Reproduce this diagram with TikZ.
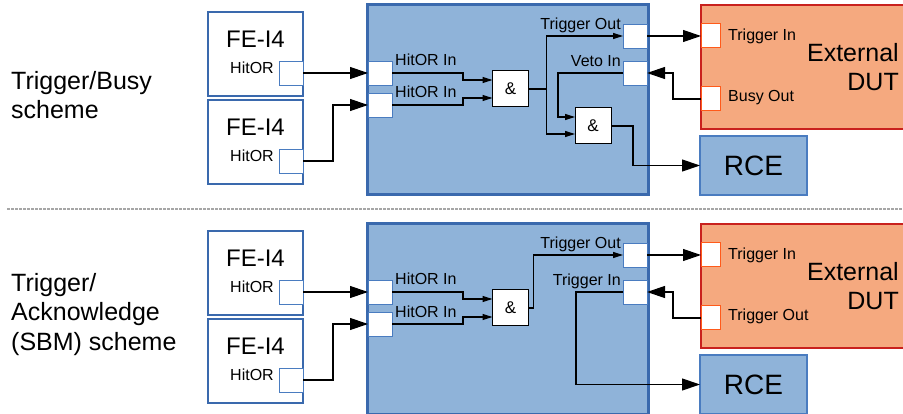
\documentclass[tikz,border=0pt]{standalone}
\usepackage{fontspec}
\setmainfont{Liberation Sans}
\usetikzlibrary{arrows.meta}

\definecolor{boxblue}{HTML}{8FB3D9}
\definecolor{edgeblue}{HTML}{3A69AD}
\definecolor{portblue}{HTML}{4A7CC0}
\definecolor{dutfill}{HTML}{F5A97F}
\definecolor{dutedge}{HTML}{C9211E}
\definecolor{dutport}{HTML}{FF5A1A}

\tikzset{
  scheme/.style={font=\fontsize{25}{29.5}\selectfont, align=left, inner sep=0pt},
  febox/.style={draw=edgeblue, line width=1.2pt, fill=white, minimum width=95pt, minimum height=84pt, inner sep=0pt, outer sep=0pt},
  fename/.style={font=\fontsize{24}{28}\selectfont, inner sep=0pt, anchor=base},
  plabel/.style={font=\fontsize{16}{19}\selectfont, inner sep=0pt},
  port/.style={draw=portblue, line width=0.9pt, fill=white, minimum size=24pt, inner sep=0pt, outer sep=0pt},
  dutpin/.style={draw=dutport, line width=1pt, fill=white, minimum width=19pt, minimum height=24pt, inner sep=0pt, outer sep=0pt},
  mainbox/.style={draw=edgeblue, line width=3pt, fill=boxblue, minimum width=281pt, minimum height=190pt, inner sep=0pt, outer sep=0pt},
  gate/.style={draw=black, line width=1pt, fill=white, minimum size=36pt, inner sep=0pt, outer sep=0pt, font=\fontsize{17}{20}\selectfont},
  dutbox/.style={draw=dutedge, line width=1.5pt, fill=dutfill, minimum width=218pt, minimum height=124pt, inner sep=0pt, outer sep=0pt},
  dutname/.style={font=\fontsize{25}{29}\selectfont, align=right, inner sep=0pt},
  rcebox/.style={draw=portblue, line width=1.2pt, fill=boxblue, minimum width=107pt, minimum height=59pt, inner sep=0pt, outer sep=0pt, font=\fontsize{28}{32}\selectfont},
  link/.style={line width=1.2pt, -{Triangle[length=18pt,width=12pt]}},
  wire/.style={line width=1.2pt, -{Triangle[length=10pt,width=6pt]}},
  wirenoarrow/.style={line width=1.2pt}
}

\begin{document}
\begin{tikzpicture}[x=1pt,y=-1pt]
\useasboundingbox (0,0) rectangle (903,414);

\node[scheme, anchor=base west] (ttitle) at (11,119) {Trigger/Busy\\scheme};

\node[febox] (tfe1) at (255.5,54) {};
\node[fename] (tfe1name) at (255.5,48) {FE-I4};
\node[plabel, anchor=base east] (tfe1hit) at (274,74) {HitOR};
\node[port] (tfe1out) at (291,73) {};
\node[febox] (tfe2) at (255.5,142) {};
\node[fename] (tfe2name) at (255.5,136) {FE-I4};
\node[plabel, anchor=base east] (tfe2hit) at (274,162) {HitOR};
\node[port] (tfe2out) at (291,161) {};

\node[mainbox] (tmain) at (507.5,100) {};
\node[port] (tin1) at (380,73) {};
\node[port] (tin2) at (380,105) {};
\node[plabel, anchor=base west] (tin1lbl) at (395,66) {HitOR In};
\node[plabel, anchor=base west] (tin2lbl) at (395,98) {HitOR In};
\node[gate] (tand1) at (510.5,89) {\&};
\node[gate] (tand2) at (593,126) {\&};
\node[port] (ttrigout) at (635,36) {};
\node[port] (tveto) at (635,73) {};
\node[plabel, anchor=base east] (ttrigoutlbl) at (621,30) {Trigger Out};
\node[plabel, anchor=base east] (tvetolbl) at (621,67) {Veto In};

\node[dutbox] (tdut) at (810,67) {};
\node[dutname, anchor=base east] (tdutname) at (899,91) {External\\DUT};
\node[dutpin] (tdutin) at (710.5,36) {};
\node[dutpin] (tdutbusy) at (710.5,99) {};
\node[plabel, anchor=base west] (tdutinlbl) at (728,41) {Trigger In};
\node[plabel, anchor=base west] (tdutbusylbl) at (728,102) {Busy Out};
\node[rcebox] (trce) at (753.5,165.5) {RCE};

\draw[link] (tfe1out.east) -- (tin1.west);
\draw[link] (tfe2out.east) -- ++(30,0) |- (tin2.west);
\draw[wire] (tin1.east) -- ++(71,0) |- ([yshift=9pt]tand1.west);
\draw[wire] (tin2.east) -- ++(71,0) |- ([yshift=-9pt]tand1.west);
\draw[wirenoarrow] (tand1.east) -- ++(18,0) coordinate (tsplit);
\draw[wire] (tsplit) |- (ttrigout.west);
\draw[wire] (tsplit) |- ([yshift=-8pt]tand2.west);
\draw[wire] (tveto.west) -- ++(-65,0) |- ([yshift=9pt]tand2.west);
\draw[link] (tand2.east) -- ++(22,0) |- (trce.west);
\draw[link] (ttrigout.east) -- (tdutin.west);
\draw[link] (tdutbusy.west) -- ++(-28,0) |- (tveto.east);

\draw[gray!70, line width=2pt, dash pattern=on 2.5pt off 1.5pt] (7,209) -- (903,209);

\begin{scope}[yshift=-219pt]
\node[scheme, anchor=base west] (btitle) at (11,131) {Trigger/\\Acknowledge\\(SBM) scheme};

\node[febox] (bfe1) at (255.5,54) {};
\node[fename] (bfe1name) at (255.5,48) {FE-I4};
\node[plabel, anchor=base east] (bfe1hit) at (274,74) {HitOR};
\node[port] (bfe1out) at (291,73) {};
\node[febox] (bfe2) at (255.5,142) {};
\node[fename] (bfe2name) at (255.5,136) {FE-I4};
\node[plabel, anchor=base east] (bfe2hit) at (274,162) {HitOR};
\node[port] (bfe2out) at (291,161) {};

\node[mainbox] (bmain) at (507.5,100) {};
\node[port] (bin1) at (380,73) {};
\node[port] (bin2) at (380,105) {};
\node[plabel, anchor=base west] (bin1lbl) at (395,66) {HitOR In};
\node[plabel, anchor=base west] (bin2lbl) at (395,98) {HitOR In};
\node[gate] (band1) at (510.5,89) {\&};
\node[port] (btrigout) at (635,36) {};
\node[port] (btrigin) at (635,73) {};
\node[plabel, anchor=base east] (btrigoutlbl) at (621,30) {Trigger Out};
\node[plabel, anchor=base east] (btriginlbl) at (621,67) {Trigger In};

\node[dutbox] (bdut) at (810,67) {};
\node[dutname, anchor=base east] (bdutname) at (899,91) {External\\DUT};
\node[dutpin] (bdutin) at (710.5,36) {};
\node[dutpin] (bdutout) at (710.5,99) {};
\node[plabel, anchor=base west] (bdutinlbl) at (728,41) {Trigger In};
\node[plabel, anchor=base west] (bdutoutlbl) at (728,102) {Trigger Out};
\node[rcebox] (brce) at (753.5,165.5) {RCE};

\draw[link] (bfe1out.east) -- (bin1.west);
\draw[link] (bfe2out.east) -- ++(30,0) |- (bin2.west);
\draw[wire] (bin1.east) -- ++(71,0) |- ([yshift=9pt]band1.west);
\draw[wire] (bin2.east) -- ++(71,0) |- ([yshift=-9pt]band1.west);
\draw[wire] (band1.east) -- ++(5,0) |- (btrigout.west);
\draw[link] (btrigin.west) -- ++(-47,0) |- (brce.west);
\draw[link] (btrigout.east) -- (bdutin.west);
\draw[link] (bdutout.west) -- ++(-28,0) |- (btrigin.east);
\end{scope}
\end{tikzpicture}
\end{document}
